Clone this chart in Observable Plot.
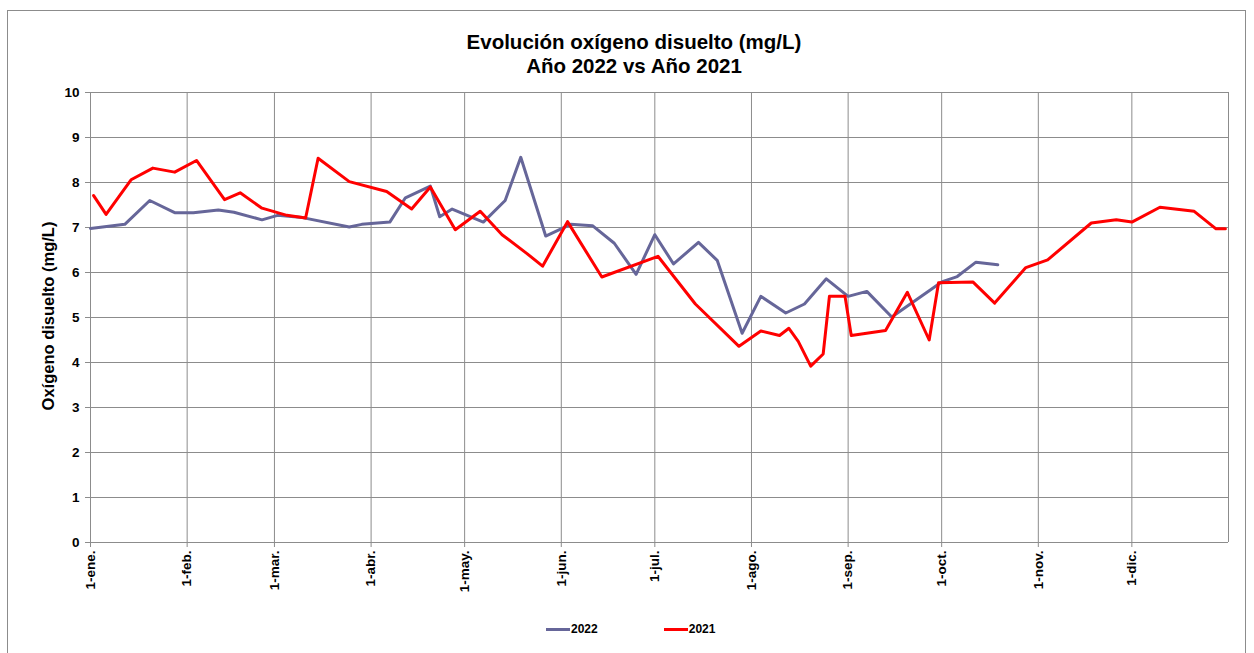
<!DOCTYPE html>
<html>
<head>
<meta charset="utf-8">
<script src="https://cdn.jsdelivr.net/npm/d3@7"></script>
<script src="https://cdn.jsdelivr.net/npm/@observablehq/plot@0.6"></script>
<style>
  body { margin: 0; background: #fff; font-family: "Liberation Sans", Arial, sans-serif; }
  #wrap { position: relative; width: 1254px; height: 653px; overflow: hidden; }
  #border { position: absolute; left: 7px; top: 10px; width: 1239px; height: 660px; border: 1px solid #8c8c8c; box-sizing: border-box; }
  #title { position: absolute; left: 384px; width: 500px; top: 30px; text-align: center; font-weight: bold; font-size: 20.5px; line-height: 24px; color: #000; }
  #ylab { position: absolute; left: 48px; top: 316px; transform: translate(-50%, -50%) rotate(-90deg); white-space: nowrap; font-weight: bold; font-size: 16.5px; }
  #legend { position: absolute; top: 622px; left: 546px; font-weight: bold; font-size: 12px; display: flex; align-items: center; }
  .sw { display: inline-block; width: 24px; height: 3px; margin-right: 1px; }
  #chart { position: absolute; left: 0; top: 0; }
</style>
</head>
<body>
<div id="wrap">
  <div id="border"></div>
  <div id="chart"></div>
  <div id="title">Evolución oxígeno disuelto (mg/L)<br>Año 2022 vs Año 2021</div>
  <div id="ylab">Oxígeno disuelto (mg/L)</div>
  <div id="legend"></div>
</div>
<script>
// ---- data ----
const seriesNames = ["2022", "2021"];
const seriesColors = ["#666699", "#ff0000"];

const dates2022 = ["01-01","01-12","01-20","01-28","02-03","02-11","02-16","02-25","03-02","03-10","03-25","03-29","04-07","04-12","04-20","04-23","04-27","05-07","05-14","05-19","05-27","06-04","06-11","06-18","06-25","07-01","07-07","07-15","07-21","07-29","08-04","08-12","08-18","08-25","09-01","09-07","09-15","09-23","10-01","10-06","10-12","10-19"];
const values2022 = [6.98,7.07,7.60,7.33,7.33,7.39,7.34,7.17,7.27,7.22,7.01,7.07,7.12,7.66,7.92,7.24,7.41,7.12,7.60,8.56,6.81,7.07,7.04,6.65,5.96,6.84,6.19,6.67,6.27,4.65,5.47,5.10,5.30,5.86,5.47,5.58,5.01,5.40,5.79,5.91,6.23,6.17];

const dates2021 = ["01-02","01-06","01-14","01-21","01-28","02-04","02-13","02-18","02-25","03-05","03-11","03-15","03-25","04-06","04-14","04-20","04-28","05-06","05-13","05-21","05-26","06-03","06-14","07-02","07-14","07-28","08-04","08-10","08-13","08-16","08-20","08-24","08-26","08-31","09-02","09-13","09-20","09-27","09-30","10-11","10-18","10-28","11-04","11-18","11-26","12-01","12-10","12-21","12-28","12-31"];
const values2021 = [7.71,7.29,8.06,8.32,8.23,8.49,7.62,7.77,7.43,7.27,7.21,8.54,8.02,7.80,7.41,7.90,6.95,7.36,6.84,6.42,6.14,7.13,5.90,6.36,5.30,4.36,4.70,4.60,4.76,4.47,3.92,4.19,5.47,5.47,4.60,4.71,5.56,4.50,5.77,5.79,5.32,6.11,6.28,7.10,7.17,7.12,7.45,7.36,6.97,6.97];

const tickLabels = ["1-ene.","1-feb.","1-mar.","1-abr.","1-may.","1-jun.","1-jul.","1-ago.","1-sep.","1-oct.","1-nov.","1-dic."];
const yTicks = [0,1,2,3,4,5,6,7,8,9,10];

// ---- build ----
const refYear = 2021;
const parse = s => { const [m, d] = s.split("-").map(Number); return new Date(Date.UTC(refYear, m - 1, d)); };
const rows2022 = dates2022.map((d, i) => ({date: parse(d), value: values2022[i]}));
const rows2021 = dates2021.map((d, i) => ({date: parse(d), value: values2021[i]}));
const tickDates = tickLabels.map((_, i) => new Date(Date.UTC(refYear, i, 1)));
const xStart = new Date(Date.UTC(refYear, 0, 1));
const xEnd = new Date(Date.UTC(refYear + 1, 0, 1));
const gridColor = "#8c8c8c";

const chart = Plot.plot({
  width: 1254,
  height: 600,
  marginLeft: 90,
  marginRight: 26,
  marginTop: 92,
  marginBottom: 58,
  style: {fontFamily: "'Liberation Sans', Arial, sans-serif", fontSize: "13.5px", fontWeight: "bold", background: "transparent", color: "#000"},
  x: {type: "utc", domain: [xStart, xEnd]},
  y: {domain: [0, 10]},
  marks: [
    Plot.gridX(tickDates, {stroke: gridColor, strokeOpacity: 1, strokeWidth: 1}),
    Plot.ruleX([xEnd], {stroke: gridColor, strokeWidth: 1}),
    Plot.gridY(yTicks, {stroke: gridColor, strokeOpacity: 1, strokeWidth: 1}),
    Plot.axisX(tickDates, {
      tickFormat: d => tickLabels[d.getUTCMonth()],
      tickRotate: -90, tickSize: 5, tickPadding: 3, stroke: gridColor,
      fontSize: 13.5, fontWeight: "bold", label: null
    }),
    Plot.axisY(yTicks, {tickSize: 5, tickPadding: 6, stroke: gridColor, fontSize: 13.5, fontWeight: "bold", label: null}),
    Plot.line(rows2022, {x: "date", y: "value", stroke: seriesColors[0], strokeWidth: 3, strokeLinejoin: "round"}),
    Plot.line(rows2021, {x: "date", y: "value", stroke: seriesColors[1], strokeWidth: 3, strokeLinejoin: "round"})
  ]
});
document.getElementById("chart").appendChild(chart);

// legend
const legend = document.getElementById("legend");
seriesNames.forEach((name, i) => {
  const item = document.createElement("span");
  item.style.display = "inline-flex";
  item.style.alignItems = "center";
  item.style.marginRight = i === 0 ? "66px" : "0";
  const sw = document.createElement("span");
  sw.className = "sw";
  sw.style.background = seriesColors[i];
  item.appendChild(sw);
  item.appendChild(document.createTextNode(name));
  legend.appendChild(item);
});
</script>
</body>
</html>
